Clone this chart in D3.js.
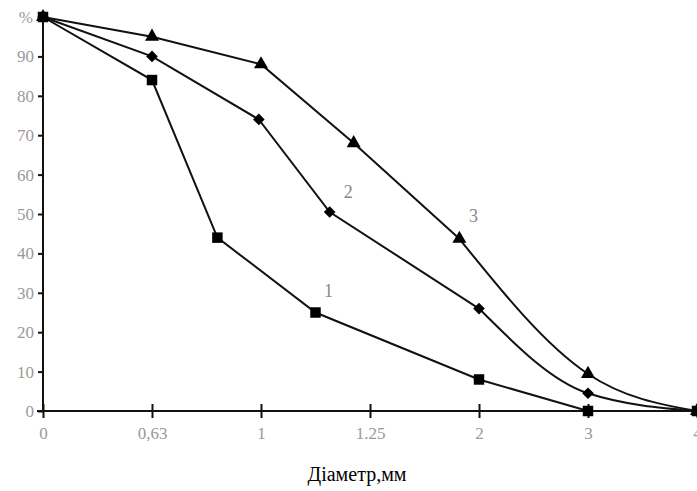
<!DOCTYPE html>
<html><head><meta charset="utf-8">
<script src="https://cdn.jsdelivr.net/npm/d3@7/dist/d3.min.js"></script>
<style>body{margin:0;background:#fff}svg{display:block}</style>
</head><body>
<svg id="c" width="697" height="491"></svg>
<script>
// x positions are in "tick index" units (ticks equally spaced)
const xTickLabels = ["0", "0,63", "1", "1.25", "2", "3", "4"];
const yTickValues = [0, 10, 20, 30, 40, 50, 60, 70, 80, 90];
const yTopLabel = "%";
const series1X = [0, 1, 1.6, 2.5, 4, 5, 6];
const series1Y = [100, 84, 44, 25, 8, 0, 0];
const series2X = [0, 1, 1.98, 2.63, 4, 5, 6];
const series2Y = [100, 90, 74, 50.5, 26, 4.5, 0];
const series3X = [0, 1, 2, 2.85, 3.82, 5, 6];
const series3Y = [100, 95, 88, 68, 43.7, 9.4, 0];
const seriesNames = ["1", "2", "3"];
const labelPos = [[2.62, 29], [2.8, 54], [3.95, 48]];
const xTitle = "Діаметр,мм";

const svg = d3.select("#c");
const x = d3.scaleLinear().domain([0, 6]).range([43, 697]);
const y = d3.scaleLinear().domain([0, 100]).range([411, 17]);
const font = "'Liberation Serif', 'DejaVu Serif', serif";

// axes
svg.append("line").attr("x1", x(0)).attr("x2", x(0)).attr("y1", 12).attr("y2", y(0))
  .attr("stroke", "#111").attr("stroke-width", 2);
svg.append("line").attr("x1", 37).attr("x2", 697).attr("y1", y(0)).attr("y2", y(0))
  .attr("stroke", "#111").attr("stroke-width", 2);

const yAxis = d3.axisLeft(y).tickValues(yTickValues).tickSize(5).tickPadding(4).tickFormat(d3.format("d"));
const gy = svg.append("g").attr("transform", `translate(${x(0)},0)`).call(yAxis);
gy.select(".domain").remove();
gy.selectAll(".tick line").attr("stroke", "#111").attr("stroke-width", 2);
gy.selectAll(".tick text").attr("fill", "#999").style("font-family", font).style("font-size", "17px");
svg.append("text").attr("x", x(0) - 10).attr("y", y(100) + 6).attr("text-anchor", "end")
  .attr("fill", "#999").style("font-family", font).style("font-size", "17px").text(yTopLabel);

const xAxis = d3.axisBottom(x).tickValues(d3.range(xTickLabels.length)).tickSize(0).tickPadding(16)
  .tickFormat(i => xTickLabels[i]);
const gx = svg.append("g").attr("transform", `translate(0,${y(0)})`).call(xAxis);
gx.select(".domain").remove();
gx.selectAll(".tick text").attr("fill", "#999").style("font-family", font).style("font-size", "17px");
gx.selectAll(".tick").append("line").attr("y1", -7).attr("y2", 7).attr("stroke", "#111").attr("stroke-width", 2);

// lines
const all = [
  {xs: series1X, ys: series1Y, sym: d3.symbolSquare, size: 110, rot: 0, curvedTail: false},
  {xs: series2X, ys: series2Y, sym: d3.symbolSquare, size: 68, rot: 45, curvedTail: true},
  {xs: series3X, ys: series3Y, sym: d3.symbolTriangle, size: 85, rot: 0, curvedTail: true}
];
all.forEach(s => {
  const pts = s.xs.map((v, i) => [v, s.ys[i]]);
  const n = pts.length;
  const lin = d3.line().x(d => x(d[0])).y(d => y(d[1]));
  if (s.curvedTail) {
    svg.append("path").attr("d", lin(pts.slice(0, n - 2)))
      .attr("fill", "none").attr("stroke", "#111").attr("stroke-width", 2);
    const cur = d3.line().x(d => x(d[0])).y(d => y(d[1])).curve(d3.curveMonotoneX);
    svg.append("path").attr("d", cur(pts.slice(n - 3)))
      .attr("fill", "none").attr("stroke", "#111").attr("stroke-width", 2);
  } else {
    svg.append("path").attr("d", lin(pts))
      .attr("fill", "none").attr("stroke", "#111").attr("stroke-width", 2);
  }
  svg.selectAll(null).data(pts).enter().append("path")
    .attr("transform", d => `translate(${x(d[0])},${y(d[1])}) rotate(${s.rot})`)
    .attr("d", d3.symbol().type(s.sym).size(s.size))
    .attr("fill", "#000");
});

// series labels
svg.selectAll(null).data(seriesNames).enter().append("text")
  .attr("x", (d, i) => x(labelPos[i][0])).attr("y", (d, i) => y(labelPos[i][1]))
  .attr("text-anchor", "middle").attr("fill", "#888")
  .style("font-family", font).style("font-size", "18px").text(d => d);

// axis title
svg.append("text").attr("x", 357).attr("y", 481).attr("text-anchor", "middle")
  .attr("fill", "#000").style("font-family", font).style("font-size", "20px").text(xTitle);
</script>
</body></html>
